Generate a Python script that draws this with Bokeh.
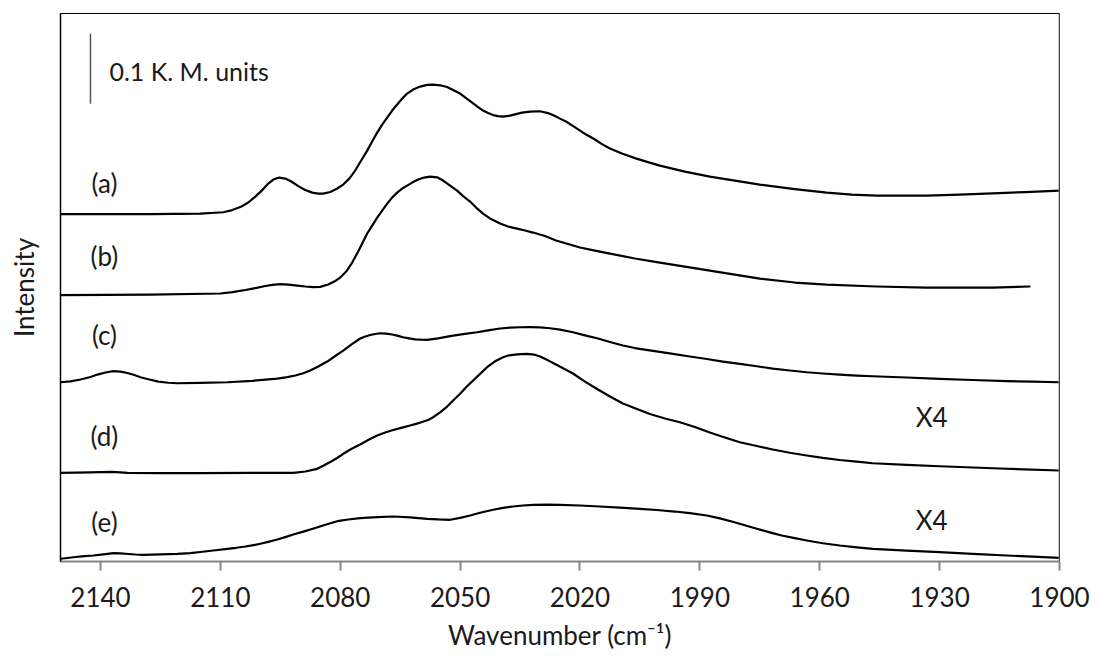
from bokeh.plotting import figure
from bokeh.models import Range1d, FixedTicker, Span
from bokeh.core.properties import value
from bokeh.embed import file_html
from bokeh.resources import INLINE

# ---------------- data (wavenumber in cm-1, intensity in K.M. units, stacked) ----------------
wn_a = [2150, 2127.5, 2115, 2109.25, 2107, 2105, 2103, 2101.25, 2099.5, 2098, 2096.75, 2095.25,
        2093.75, 2092.25, 2090.5, 2088.75, 2087, 2085.5, 2084.25, 2082.5, 2080.75, 2079.25,
        2077.75, 2076.25, 2074.75, 2073.25, 2072, 2070.75, 2069.5, 2068.25, 2067, 2065.75,
        2064.5, 2063.25, 2061.75, 2060, 2058.25, 2056.75, 2055, 2053.25, 2051.75, 2050, 2048.5,
        2047, 2045.5, 2044.25, 2043, 2041.75, 2040.5, 2039.25, 2037.5, 2036, 2034.5, 2032.5,
        2030, 2028, 2026.25, 2024.75, 2023.25, 2021.5, 2020, 2018.25, 2016.25, 2014.5, 2012.5,
        2009.5, 2006.25, 2003, 2000, 1993.75, 1987.5, 1981.25, 1975, 1966.25, 1958.25, 1952,
        1945.75, 1933.25, 1925, 1916.75, 1908.5, 1900]
int_a = [0.4964, 0.4964, 0.4971, 0.4990, 0.5021, 0.5064, 0.5129, 0.5214, 0.5307, 0.5400, 0.5457,
         0.5486, 0.5471, 0.5429, 0.5364, 0.5307, 0.5271, 0.5257, 0.5257, 0.5279, 0.5329, 0.5386,
         0.5471, 0.5586, 0.5729, 0.5871, 0.6000, 0.6129, 0.6243, 0.6343, 0.6443, 0.6529,
         0.6614, 0.6686, 0.6743, 0.6786, 0.6810, 0.6814, 0.6804, 0.6779, 0.6736, 0.6686, 0.6621,
         0.6557, 0.6493, 0.6443, 0.6407, 0.6379, 0.6364, 0.6357, 0.6371, 0.6393, 0.6414, 0.6429,
         0.6433, 0.6407, 0.6364, 0.6321, 0.6279, 0.6214, 0.6157, 0.6093, 0.6029, 0.5964, 0.5900,
         0.5829, 0.5764, 0.5707, 0.5657, 0.5571, 0.5500, 0.5443, 0.5386, 0.5321, 0.5271, 0.5243,
         0.5229, 0.5229, 0.5243, 0.5261, 0.5279, 0.5300]

wn_b = [2150, 2127.5, 2110, 2107, 2103.75, 2101.25, 2098.75, 2097, 2095, 2093, 2090.75, 2088.75,
        2086.75, 2085, 2083, 2081.5, 2080, 2078.5, 2077, 2075.25, 2073.25, 2072, 2070.75, 2069.5,
        2068.25, 2067, 2065.75, 2064.5, 2063.25, 2062, 2060.5, 2059, 2057.5, 2055.75, 2054.25,
        2052.5, 2050.75, 2049.25, 2047.5, 2046, 2044.25, 2042.25, 2040, 2038, 2035.75, 2033.75,
        2031.75, 2028.75, 2026, 2023, 2020, 2016.25, 2012.5, 2006.25, 2000, 1993.75, 1987.5,
        1981.25, 1975, 1966.25, 1958.25, 1945.75, 1933.25, 1916.75, 1907.5]
int_b = [0.3807, 0.3814, 0.3829, 0.3850, 0.3879, 0.3907, 0.3936, 0.3953, 0.3964, 0.3957, 0.3943,
         0.3929, 0.3921, 0.3924, 0.3957, 0.4000, 0.4057, 0.4143, 0.4271, 0.4457, 0.4686, 0.4800,
         0.4914, 0.5014, 0.5114, 0.5200, 0.5271, 0.5329, 0.5371, 0.5414, 0.5457, 0.5486, 0.5500,
         0.5489, 0.5443, 0.5371, 0.5300, 0.5221, 0.5143, 0.5057, 0.4971, 0.4893, 0.4829, 0.4786,
         0.4757, 0.4729, 0.4700, 0.4650, 0.4586, 0.4536, 0.4486, 0.4443, 0.4400, 0.4329, 0.4271,
         0.4214, 0.4157, 0.4100, 0.4043, 0.3986, 0.3957, 0.3929, 0.3914, 0.3914, 0.3929]

wn_c = [2150, 2147.5, 2145, 2142.5, 2140.75, 2138.75, 2136.75, 2135, 2133.25, 2131.5, 2130,
        2127.75, 2125.5, 2123, 2120.75, 2115, 2108.25, 2102, 2095.75, 2093.25, 2091.25, 2089.25,
        2087.5, 2085.5, 2083.25, 2081.25, 2079.25, 2077.25, 2075, 2073.75, 2072.5, 2071.25, 2070,
        2068.5, 2067, 2065.5, 2064.25, 2062.75, 2061.25, 2059.75, 2058.25, 2055.5, 2052.5,
        2049.25, 2045.75, 2043, 2040, 2037.5, 2035, 2032.5, 2030, 2027.5, 2025, 2021.75, 2018.75,
        2015.5, 2012.5, 2009.25, 2006.25, 2003, 2000, 1996.75, 1992.5, 1988.25, 1984.25, 1980,
        1975.75, 1971.75, 1967.5, 1963.25, 1959.25, 1955, 1950.75, 1946.75, 1938.25, 1930,
        1921.75, 1913.25, 1906.75, 1900]
int_c = [0.2561, 0.2574, 0.2600, 0.2636, 0.2671, 0.2700, 0.2719, 0.2714, 0.2693, 0.2664, 0.2633,
         0.2600, 0.2571, 0.2554, 0.2547, 0.2551, 0.2561, 0.2581, 0.2614, 0.2634, 0.2657, 0.2689,
         0.2729, 0.2786, 0.2857, 0.2936, 0.3014, 0.3100, 0.3186, 0.3214, 0.3236, 0.3251, 0.3261,
         0.3257, 0.3243, 0.3223, 0.3204, 0.3189, 0.3174, 0.3169, 0.3167, 0.3189, 0.3221,
         0.3250, 0.3276, 0.3303, 0.3329, 0.3343, 0.3347, 0.3350, 0.3346, 0.3333, 0.3314, 0.3276,
         0.3231, 0.3186, 0.3136, 0.3086, 0.3050, 0.3021, 0.2994, 0.2967, 0.2929, 0.2893, 0.2857,
         0.2824, 0.2790, 0.2757, 0.2729, 0.2704, 0.2686, 0.2671, 0.2657, 0.2647, 0.2629, 0.2610,
         0.2593, 0.2576, 0.2569, 0.2561]

wn_d = [2150, 2146.25, 2142.5, 2140, 2137, 2135, 2133.25, 2125, 2115, 2102.5, 2091.75, 2088.75,
        2085.75, 2084.25, 2082.5, 2080.75, 2079.25, 2077.25, 2075, 2073, 2070.75, 2068.75,
        2066.75, 2064.75, 2062.5, 2061, 2059.5, 2058, 2056.75, 2055, 2053.25, 2051.75, 2050,
        2048.5, 2046.75, 2045, 2043.25, 2041.25, 2039.25, 2037.75, 2036.25, 2034.75, 2033.25,
        2031.5, 2030, 2028, 2026, 2024, 2021.75, 2018.75, 2015.5, 2012.5, 2009.25, 2005.75,
        2002.5, 1998.75, 1995, 1991.25, 1987.5, 1983.75, 1980, 1975.75, 1971.75, 1967.5, 1963.25,
        1959.25, 1955, 1950.75, 1946.75, 1938.25, 1930, 1915, 1900]
int_d = [0.1267, 0.1269, 0.1273, 0.1278, 0.1280, 0.1274, 0.1267, 0.1264, 0.1264, 0.1266, 0.1267,
         0.1286, 0.1324, 0.1367, 0.1421, 0.1479, 0.1539, 0.1607, 0.1671, 0.1736, 0.1800, 0.1843,
         0.1879, 0.1910, 0.1943, 0.1967, 0.1993, 0.2021, 0.2061, 0.2131, 0.2214, 0.2300, 0.2396,
         0.2489, 0.2586, 0.2681, 0.2776, 0.2860, 0.2919, 0.2946, 0.2957, 0.2964, 0.2967,
         0.2957, 0.2929, 0.2874, 0.2814, 0.2753, 0.2686, 0.2571, 0.2457, 0.2357, 0.2257, 0.2179,
         0.2107, 0.2043, 0.1990, 0.1921, 0.1843, 0.1771, 0.1704, 0.1650, 0.1600, 0.1554, 0.1514,
         0.1480, 0.1450, 0.1426, 0.1404, 0.1381, 0.1361, 0.1329, 0.1300]

wn_e = [2150, 2148.25, 2146.25, 2144, 2141.75, 2139.25, 2136.75, 2135, 2133, 2131.25, 2129.25,
        2125, 2120.75, 2117.5, 2115, 2111.75, 2108.25, 2106, 2103.75, 2102, 2100, 2098, 2095.75,
        2093.75, 2091.75, 2089, 2086.25, 2083.5, 2080.75, 2078, 2075, 2070.75, 2066.75, 2062.5,
        2058.25, 2055.5, 2052.5, 2050, 2047.5, 2044.75, 2041.75, 2039.25, 2036.75, 2034.25,
        2031.75, 2028.25, 2025, 2020, 2015, 2010, 2005, 2000.75, 1996.25, 1992.5, 1988.25, 1985,
        1982, 1978.75, 1975.75, 1972.5, 1969.5, 1966.25, 1963.25, 1959.25, 1955, 1950.75,
        1946.75, 1938.25, 1930, 1921.75, 1913.25, 1906.75, 1900]
int_e = [0.0039, 0.0050, 0.0064, 0.0077, 0.0086, 0.0103, 0.0119, 0.0116, 0.0107, 0.0100, 0.0096,
         0.0103, 0.0110, 0.0120, 0.0136, 0.0157, 0.0181, 0.0196, 0.0214, 0.0231, 0.0253, 0.0281,
         0.0314, 0.0349, 0.0386, 0.0431, 0.0479, 0.0529, 0.0576, 0.0600, 0.0619, 0.0634, 0.0643,
         0.0631, 0.0610, 0.0601, 0.0596, 0.0623, 0.0657, 0.0700, 0.0739, 0.0766, 0.0786, 0.0800,
         0.0810, 0.0814, 0.0810, 0.0800, 0.0786, 0.0771, 0.0753, 0.0736, 0.0714, 0.0690, 0.0657,
         0.0617, 0.0571, 0.0517, 0.0467, 0.0417, 0.0371, 0.0333, 0.0300, 0.0261, 0.0229, 0.0203,
         0.0181, 0.0156, 0.0133, 0.0110, 0.0086, 0.0069, 0.0053]

x_ticks = [2140, 2110, 2080, 2050, 2020, 1990, 1960, 1930, 1900]

curve_labels = ["(a)", "(b)", "(c)", "(d)", "(e)"]
curve_label_wn = [2139, 2139, 2139, 2139, 2139]
curve_label_int = [0.541, 0.437, 0.323, 0.180, 0.056]

factor_labels = ["X4", "X4"]
factor_label_wn = [1932, 1932]
factor_label_int = [0.206, 0.060]

scale_bar_wn = [2142.5, 2142.5]
scale_bar_int = [0.754, 0.654]
scale_text = ["0.1 K. M. units"]
scale_text_wn = [2137.75]
scale_text_int = [0.701]

# ---------------- figure ----------------
FONT = "Lato"
TXT = "#1a1a1a"
FS = "26px"
p = figure(width=1095, height=659, output_backend="svg", toolbar_location=None,
           x_range=Range1d(2150, 1900), y_range=Range1d(0, 0.783),
           min_border_left=60, min_border_right=36, min_border_top=13, min_border_bottom=98)
p.grid.visible = False
p.background_fill_color = "white"
p.border_fill_color = "white"
p.outline_line_color = "black"
p.outline_line_width = 1

xa = p.xaxis[0]
xa.ticker = FixedTicker(ticks=x_ticks)
xa.axis_line_color = "#868686"
xa.axis_line_width = 2
xa.major_tick_line_color = "#868686"
xa.major_tick_line_width = 2
xa.major_tick_out = 9
xa.major_tick_in = 0
xa.minor_tick_line_color = None
xa.major_label_text_font = FONT
xa.major_label_text_font_size = FS
xa.major_label_text_color = TXT
xa.major_label_standoff = 16
xa.axis_label = "Wavenumber (cm\u207b\u00b9)"
xa.axis_label_text_font = FONT
xa.axis_label_text_font_size = FS
xa.axis_label_text_font_style = "normal"
xa.axis_label_text_color = TXT
xa.axis_label_standoff = 9

ya = p.yaxis[0]
ya.ticker = FixedTicker(ticks=[])
ya.axis_line_color = "black"
ya.axis_line_width = 1.5
ya.major_tick_line_color = None
ya.minor_tick_line_color = None
ya.major_label_text_font_size = "0px"
ya.axis_label = "Intensity"
ya.axis_label_text_font = FONT
ya.axis_label_text_font_size = FS
ya.axis_label_text_font_style = "normal"
ya.axis_label_text_color = TXT
ya.axis_label_standoff = 21

p.add_layout(Span(location=1900, dimension="height", line_color="#868686", line_width=2))

for wn, it in [(wn_a, int_a), (wn_b, int_b), (wn_c, int_c), (wn_d, int_d), (wn_e, int_e)]:
    p.line(wn, it, line_color="black", line_width=2.2, line_join="round", line_cap="round")

p.line(scale_bar_wn, scale_bar_int, line_color="#555555", line_width=1.5)

p.text(x=scale_text_wn, y=scale_text_int, text=scale_text, text_font=value(FONT),
       text_font_size="25px", text_baseline="middle", text_align="left", text_color=TXT)
p.text(x=curve_label_wn, y=curve_label_int, text=curve_labels, text_font=value(FONT),
       text_font_size=FS, text_baseline="middle", text_align="center", text_color=TXT)
p.text(x=factor_label_wn, y=factor_label_int, text=factor_labels, text_font=value(FONT),
       text_font_size=FS, text_baseline="middle", text_align="center", text_color=TXT)

open("out.html", "w").write(file_html(p, INLINE))
